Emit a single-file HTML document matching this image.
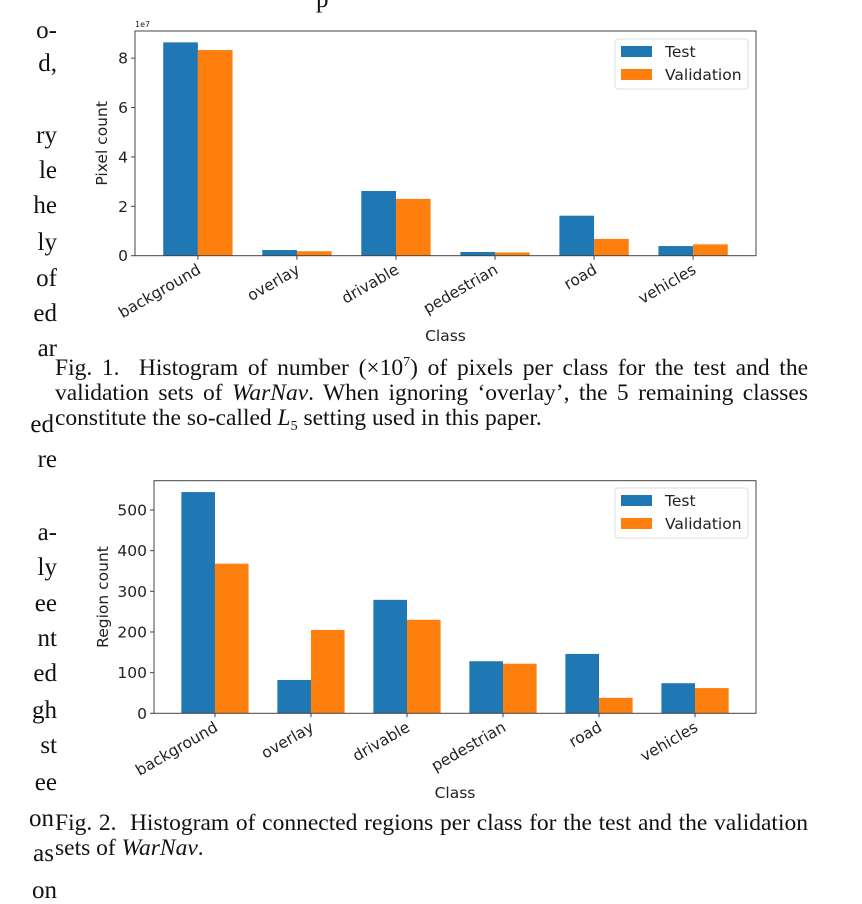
<!DOCTYPE html>
<html><head><meta charset="utf-8">
<style>
html,body{margin:0;padding:0;background:#fff;}
body{width:862px;height:896px;position:relative;overflow:hidden;font-family:"Liberation Serif",serif;color:#111;}
.side{position:absolute;right:805px;font-size:25px;line-height:25px;white-space:nowrap;}
.cap{position:absolute;left:55px;width:753px;font-size:23.5px;line-height:25px;height:25px;text-align:justify;text-align-last:justify;white-space:nowrap;}
.cap sup,.cap sub{font-size:14px;line-height:0;position:relative;vertical-align:baseline;}
.cap sup{top:-9px}.cap sub{top:5px}
svg{position:absolute;left:0;top:0;}
</style></head><body>
<div>
<div class="side" style="top:18px">o-</div>
<div class="side" style="top:51px">d,</div>
<div class="side" style="top:123px">ry</div>
<div class="side" style="top:158px">le</div>
<div class="side" style="top:193px">he</div>
<div class="side" style="top:230px">ly</div>
<div class="side" style="top:266px">of</div>
<div class="side" style="top:301px">ed</div>
<div class="side" style="top:336px">ar</div>
<div class="side" style="top:412px;right:808px">ed</div>
<div class="side" style="top:447px">re</div>
<div class="side" style="top:520px">a-</div>
<div class="side" style="top:555px">ly</div>
<div class="side" style="top:591px">ee</div>
<div class="side" style="top:626px">nt</div>
<div class="side" style="top:661px">ed</div>
<div class="side" style="top:698px">gh</div>
<div class="side" style="top:733px">st</div>
<div class="side" style="top:770px">ee</div>
<div class="side" style="top:806px;right:808px">on</div>
<div class="side" style="top:841px;right:808px">as</div>
<div class="side" style="top:878px">on</div>
</div>
<div style="position:absolute;left:316px;top:-14px;font-size:25px">p</div>
<div class="cap" style="top:356px">Fig. 1.&nbsp; Histogram of number (×10<sup>7</sup>) of pixels per class for the test and the</div>
<div class="cap" style="top:381px">validation sets of <i>WarNav</i>. When ignoring ‘overlay’, the 5 remaining classes</div>
<div class="cap" style="top:406px;text-align-last:left">constitute the so-called <i>L</i><sub>5</sub> setting used in this paper.</div>
<div class="cap" style="top:811px">Fig. 2.&nbsp; Histogram of connected regions per class for the test and the validation</div>
<div class="cap" style="top:836px;text-align-last:left">sets of <i>WarNav</i>.</div>
<svg id="svg" width="862" height="896"></svg>
<script>
const categories = ["background","overlay","drivable","pedestrian","road","vehicles"];
const pixelTest = [8.64,0.23,2.62,0.15,1.62,0.39];
const pixelVal = [8.33,0.18,2.30,0.13,0.68,0.46];
const pixelTicks = [0,2,4,6,8];
const regionTest = [544,82,279,128,146,74];
const regionVal = [368,205,230,122,38,62];
const regionTicks = [0,100,200,300,400,500];
const seriesNames = ["Test","Validation"];

const NS="http://www.w3.org/2000/svg";
const svg=document.getElementById('svg');
function mk(tag,attrs,parent){const e=document.createElementNS(NS,tag);for(const k in attrs)e.setAttribute(k,attrs[k]);(parent||svg).appendChild(e);return e;}
const FONT='"DejaVu Sans","Liberation Sans",sans-serif';
const FS=15.5;

function chart(cfg){
  const g=mk('g',{});
  
  
  const {L,T,R,B,ymax}=cfg;
  const n=categories.length;
  const xmin=-0.635,xmax=n-1+0.635;
  const X=v=>L+(v-xmin)/(xmax-xmin)*(R-L);
  const Y=v=>B-v/ymax*(B-T);
  const bw=0.35;
  [cfg.test,cfg.val].forEach((arr,si)=>{
    arr.forEach((v,i)=>{
      const x0=X(i-bw+si*bw),x1=X(i+si*bw);
      const r=mk('rect',{x:x0,y:Y(v),width:x1-x0,height:B-Y(v),fill:si?'#ff7f0e':'#1f77b4'},g);
      
      
    });
  });
  const fr=mk('rect',{x:L,y:T,width:R-L,height:B-T,fill:'none',stroke:'#444','stroke-width':1},g);
  
  
  cfg.ticks.forEach(t=>{
    const y=Y(t);
    mk('line',{x1:L-4,x2:L,y1:y,y2:y,stroke:'#444'},g);
    const tx=mk('text',{x:L-7,y:y+5.5,'text-anchor':'end','font-family':FONT,'font-size':FS,fill:'#222'},g);
    tx.textContent=t;
    
    
  });
  categories.forEach((c,i)=>{
    const x=X(i);
    mk('line',{x1:x,x2:x,y1:B,y2:B+4,stroke:'#444'},g);
    const tx=mk('text',{x:x,y:B+18,'text-anchor':'end','font-family':FONT,'font-size':FS,fill:'#222',transform:`rotate(-30 ${x} ${B+10})`},g);
    tx.textContent=c;
    
    
  });
  const yl=mk('text',{x:0,y:0,'text-anchor':'middle','font-family':FONT,'font-size':FS,fill:'#222',transform:`translate(${cfg.ylx} ${(T+B)/2}) rotate(-90)`},g);
  yl.textContent=cfg.ylabel;
  
  
  const xl=mk('text',{x:(L+R)/2,y:cfg.xly,'text-anchor':'middle','font-family':FONT,'font-size':FS,fill:'#222'},g);
  xl.textContent='Class';
  
  
  if(cfg.exp){const e=mk('text',{x:L,y:T-4,'font-family':FONT,'font-size':8,fill:'#222'},g);e.textContent=cfg.exp;
    
    }
  const lg=mk('g',{},g);
  
  
  const ly=cfg.legY;
  mk('rect',{x:615,y:ly,width:133,height:50,rx:3,fill:'#fff',stroke:'#ddd'},lg);
  seriesNames.forEach((s,si)=>{
    const pr=mk('rect',{x:621,y:ly+7+si*23,width:31,height:11,fill:si?'#ff7f0e':'#1f77b4'},lg);
    
    
    const t=mk('text',{x:665,y:ly+18+si*23,'font-family':FONT,'font-size':FS,fill:'#222'},lg);
    t.textContent=s;
    
    
  });
}
chart({name:'pixel-count-chart',L:135,T:31,R:756,B:255.7,ymax:9.1,test:pixelTest,val:pixelVal,ticks:pixelTicks,ylabel:'Pixel count',ylx:107,xly:341,exp:'1e7',legY:39});
chart({name:'region-count-chart',L:154,T:480.7,R:756,B:713.3,ymax:572,test:regionTest,val:regionVal,ticks:regionTicks,ylabel:'Region count',ylx:108,xly:798,legY:488});
</script>
</body></html>
